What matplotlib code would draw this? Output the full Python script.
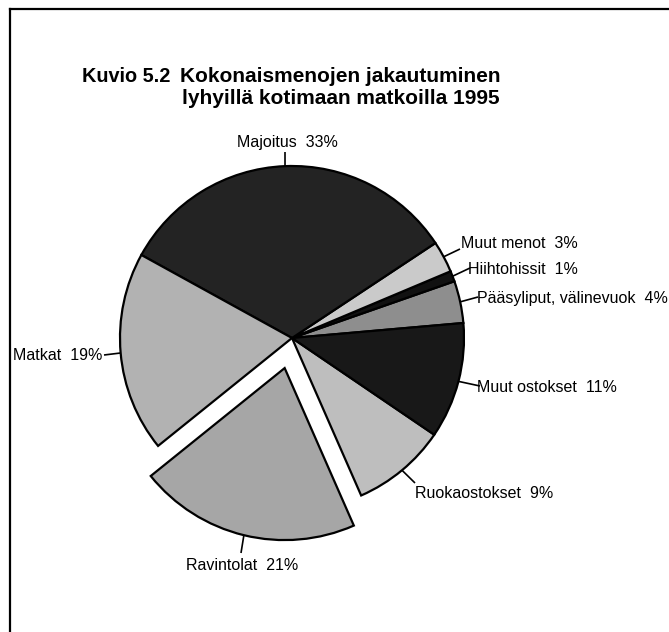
import matplotlib
matplotlib.use("Agg")
import matplotlib.pyplot as plt
import numpy as np

plt.rcParams['font.family'] = ['Liberation Sans', 'DejaVu Sans']

# Data (counter-clockwise order, starting at the right)
categories = ["Pääsyliput, välinevuok", "Hiihtohissit", "Muut menot", "Majoitus",
              "Matkat", "Ravintolat", "Ruokaostokset", "Muut ostokset"]
shares = [4, 1, 3, 33, 19, 21, 9, 11]
labels = ["Pääsyliput, välinevuok  4%", "Hiihtohissit  1%", "Muut menot  3%",
          "Majoitus  33%", "Matkat  19%", "Ravintolat  21%", "Ruokaostokset  9%",
          "Muut ostokset  11%"]

colors = ["#8e8e8e", "#111111", "#cacaca", "#232323",
          "#b2b2b2", "#a6a6a6", "#bebebe", "#181818"]
explode_frac = [0, 0, 0, 0, 0, 0.18, 0, 0]

W, H = 669, 632
fig = plt.figure(figsize=(W / 100, H / 100), dpi=100)
ax = fig.add_axes([0, 0, 1, 1])

cx, cy, R = 292, H - 338, 172
start = 5.0
wedges, _ = ax.pie(shares, colors=colors, explode=[e * R for e in explode_frac],
                   startangle=start, counterclock=True, radius=R, center=(cx, cy),
                   wedgeprops=dict(edgecolor="black", linewidth=1.6))
ax.set_xlim(0, W)
ax.set_ylim(0, H)
ax.set_aspect('equal')
ax.axis('off')

# label layout: (text x, text y in pixel-from-top, ha, line end x, line end y)
layout = {
    "Pääsyliput, välinevuok": (477, 298, 'left', 478, 297),
    "Hiihtohissit": (468, 270, 'left', 470, 268),
    "Muut menot": (461, 243, 'left', 460, 249),
    "Majoitus": (287, 143, 'center', 285, 152),
    "Matkat": (102, 355, 'right', 104, 355),
    "Ravintolat": (242, 565, 'center', 241, 553),
    "Ruokaostokset": (415, 493, 'left', 415, 483),
    "Muut ostokset": (477, 387, 'left', 480, 386),
}

for w, cat, lab, ex in zip(wedges, categories, labels, explode_frac):
    mid = np.deg2rad((w.theta1 + w.theta2) / 2)
    rr = R * (1 + ex)
    px = cx + rr * np.cos(mid)
    py = cy + rr * np.sin(mid)
    tx, ty, ha, lx, ly = layout[cat]
    ax.plot([px, lx], [py, H - ly], color="black", lw=1.2, solid_capstyle='butt')
    ax.text(tx, H - ty, lab, ha=ha, va='center', fontsize=11.5, color="black")

# Title
ax.text(82, H - 76, "Kuvio 5.2", fontsize=14.3, fontweight='bold', ha='left', va='center')
ax.text(180, H - 76, "Kokonaismenojen jakautuminen", fontsize=15, fontweight='bold',
        ha='left', va='center')
ax.text(182, H - 99, "lyhyillä kotimaan matkoilla 1995", fontsize=15, fontweight='bold',
        ha='left', va='center')

# Frame (top and left edges visible)
ax.plot([10, W], [H - 9, H - 9], color="black", lw=1.6)
ax.plot([10, 10], [H - 9, 0], color="black", lw=1.6)

fig.savefig("out.png", dpi=100)
